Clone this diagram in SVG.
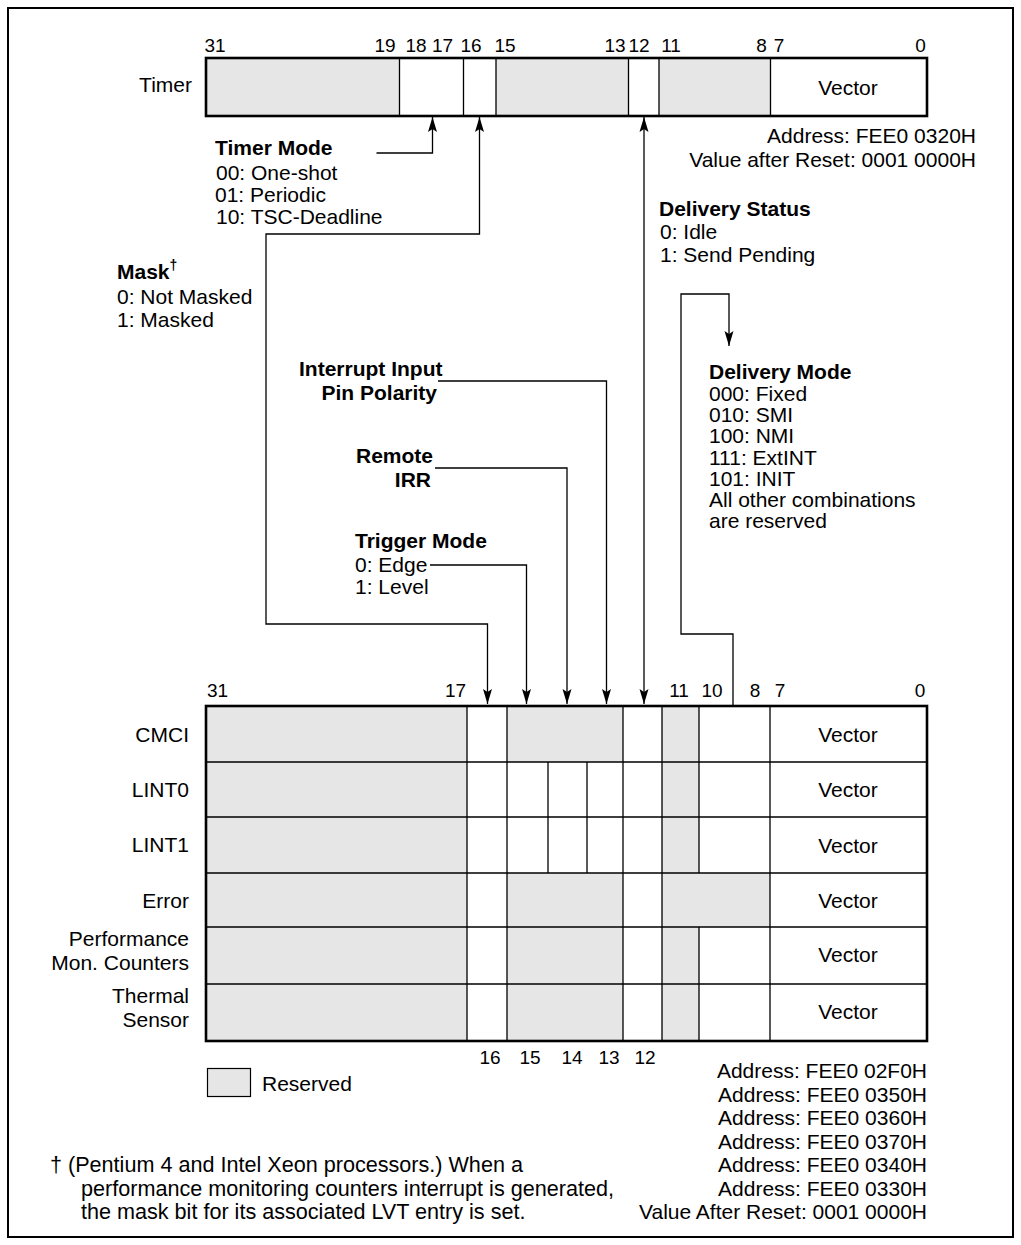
<svg xmlns="http://www.w3.org/2000/svg" width="1021" height="1245" viewBox="0 0 1021 1245">
<defs>
<style>
text{font-family:"Liberation Sans",Arial,sans-serif;font-size:21px;fill:#000}
.b{font-weight:bold}
.n{font-size:19px}
.e{text-anchor:end}
.m{text-anchor:middle}
.f{font-size:21.6px}
.g{fill:#e6e6e6;stroke:none}
.d{stroke:#000;stroke-width:1.3;fill:none}
.box{fill:none;stroke:#000;stroke-width:2.6}
.c{stroke:#000;stroke-width:1.3;fill:none}
</style>
<marker id="ah" markerUnits="userSpaceOnUse" markerWidth="16" markerHeight="10" refX="15" refY="5" orient="auto-start-reverse">
<path d="M0,0.5 L15,5 L0,9.5 L3,5 z" fill="#000"/>
</marker>
</defs>
<rect x="0" y="0" width="1021" height="1245" fill="#fff"/>
<rect x="8" y="8" width="1005" height="1229" fill="none" stroke="#000" stroke-width="2"/>

<g id="timer-register">
<rect class="g" x="206" y="58" width="193.5" height="58"/>
<rect class="g" x="496" y="58" width="132.5" height="58"/>
<rect class="g" x="659" y="58" width="111.5" height="58"/>
<path class="d" d="M399.5,58V116M463.5,58V116M496,58V116M628.5,58V116M659,58V116M770.5,58V116"/>
<rect class="box" x="206" y="58" width="721" height="58"/>
<text class="e" x="192" y="92">Timer</text>
<text class="m" x="848" y="95">Vector</text>
<text class="n m" x="215" y="52">31</text>
<text class="n m" x="385" y="52">19</text>
<text class="n m" x="416" y="52">18</text>
<text class="n m" x="442.5" y="52">17</text>
<text class="n m" x="471" y="52">16</text>
<text class="n m" x="505" y="52">15</text>
<text class="n m" x="615" y="52">13</text>
<text class="n m" x="639" y="52">12</text>
<text class="n m" x="671" y="52">11</text>
<text class="n m" x="761.5" y="52">8</text>
<text class="n m" x="779" y="52">7</text>
<text class="n m" x="920.5" y="52">0</text>
<text class="e" x="976" y="143">Address: FEE0 0320H</text>
<text class="e" x="976" y="167">Value after Reset: 0001 0000H</text>
</g>

<g id="lvt-register">
<rect class="g" x="206" y="706" width="261" height="335"/>
<rect class="g" x="507" y="706" width="116" height="56"/>
<rect class="g" x="662" y="706" width="37" height="56"/>
<rect class="g" x="662" y="762" width="37" height="111"/>
<rect class="g" x="507" y="873" width="116" height="54"/>
<rect class="g" x="662" y="873" width="108" height="54"/>
<rect class="g" x="507" y="927" width="116" height="114"/>
<rect class="g" x="662" y="927" width="37" height="114"/>
<path class="d" d="M206,762H927M206,817H927M206,873H927M206,927H927M206,984H927"/>
<path class="d" d="M467,706V1041M507,706V1041M623,706V1041M662,706V1041M770,706V1041"/>
<path class="d" d="M548,762V873M587,762V873"/>
<path class="d" d="M699,706V873M699,927V1041"/>
<rect class="box" x="206" y="706" width="721" height="335"/>
<text class="e" x="189" y="742">CMCI</text>
<text class="e" x="189" y="797">LINT0</text>
<text class="e" x="189" y="852">LINT1</text>
<text class="e" x="189" y="908">Error</text>
<text class="e" x="189" y="946">Performance</text>
<text class="e" x="189" y="970">Mon. Counters</text>
<text class="e" x="189" y="1003">Thermal</text>
<text class="e" x="189" y="1027">Sensor</text>
<text class="m" x="848" y="742">Vector</text>
<text class="m" x="848" y="797">Vector</text>
<text class="m" x="848" y="853">Vector</text>
<text class="m" x="848" y="908">Vector</text>
<text class="m" x="848" y="962">Vector</text>
<text class="m" x="848" y="1019">Vector</text>
<text class="n m" x="217.5" y="697">31</text>
<text class="n m" x="455.5" y="697">17</text>
<text class="n m" x="679" y="697">11</text>
<text class="n m" x="712" y="697">10</text>
<text class="n m" x="755" y="697">8</text>
<text class="n m" x="780" y="697">7</text>
<text class="n m" x="920" y="697">0</text>
<text class="n m" x="490" y="1064">16</text>
<text class="n m" x="530" y="1064">15</text>
<text class="n m" x="572" y="1064">14</text>
<text class="n m" x="609" y="1064">13</text>
<text class="n m" x="645" y="1064">12</text>
</g>

<g id="legend">
<rect x="207.5" y="1068.5" width="43" height="28" fill="#e6e6e6" stroke="#000" stroke-width="1.2"/>
<text x="262" y="1091">Reserved</text>
</g>

<g id="timer-mode">
<text class="b" x="215" y="155">Timer Mode</text>
<text x="216" y="180">00: One-shot</text>
<text x="215" y="202">01: Periodic</text>
<text x="216" y="224">10: TSC-Deadline</text>
</g>

<g id="mask">
<text class="b" x="117" y="279">Mask<tspan font-size="14" dy="-9">†</tspan></text>
<text x="117" y="304">0: Not Masked</text>
<text x="117" y="327">1: Masked</text>
</g>

<g id="delivery-status">
<text class="b" x="659" y="216">Delivery Status</text>
<text x="660" y="239">0: Idle</text>
<text x="660" y="262">1: Send Pending</text>
</g>

<g id="delivery-mode">
<text class="b" x="709" y="379">Delivery Mode</text>
<text x="709" y="401">000: Fixed</text>
<text x="709" y="422">010: SMI</text>
<text x="709" y="443">100: NMI</text>
<text x="709" y="465">111: ExtINT</text>
<text x="709" y="486">101: INIT</text>
<text x="709" y="507">All other combinations</text>
<text x="709" y="528">are reserved</text>
</g>

<g id="pin-polarity">
<text class="b" x="299" y="376">Interrupt Input</text>
<text class="b e" x="437" y="400">Pin Polarity</text>
</g>

<g id="remote-irr">
<text class="b e" x="433" y="463">Remote</text>
<text class="b e" x="431" y="487">IRR</text>
</g>

<g id="trigger-mode">
<text class="b" x="355" y="548">Trigger Mode</text>
<text x="355" y="572">0: Edge</text>
<text x="355" y="594">1: Level</text>
</g>

<g id="connectors">
<path class="c" d="M376.5,153H432.5V117" marker-end="url(#ah)"/>
<path class="c" d="M479.5,117V234H266V624H487.5V704" marker-start="url(#ah)" marker-end="url(#ah)"/>
<path class="c" d="M644,117V704" marker-start="url(#ah)" marker-end="url(#ah)"/>
<path class="c" d="M438,381H606.5V704" marker-end="url(#ah)"/>
<path class="c" d="M435,468H567V704" marker-end="url(#ah)"/>
<path class="c" d="M430,565H526.5V704" marker-end="url(#ah)"/>
<path class="c" d="M733,706V634H681V294H729V346" marker-end="url(#ah)"/>
</g>

<g id="addresses">
<text class="e" x="927" y="1078">Address: FEE0 02F0H</text>
<text class="e" x="927" y="1102">Address: FEE0 0350H</text>
<text class="e" x="927" y="1125">Address: FEE0 0360H</text>
<text class="e" x="927" y="1149">Address: FEE0 0370H</text>
<text class="e" x="927" y="1172">Address: FEE0 0340H</text>
<text class="e" x="927" y="1196">Address: FEE0 0330H</text>
<text class="e" x="927" y="1219">Value After Reset: 0001 0000H</text>
</g>

<g id="footnote">
<text class="f" x="50" y="1172">† (Pentium 4 and Intel Xeon processors.) When a</text>
<text class="f" x="81" y="1196">performance monitoring counters interrupt is generated,</text>
<text class="f" x="81" y="1219">the mask bit for its associated LVT entry is set.</text>
</g>
</svg>
